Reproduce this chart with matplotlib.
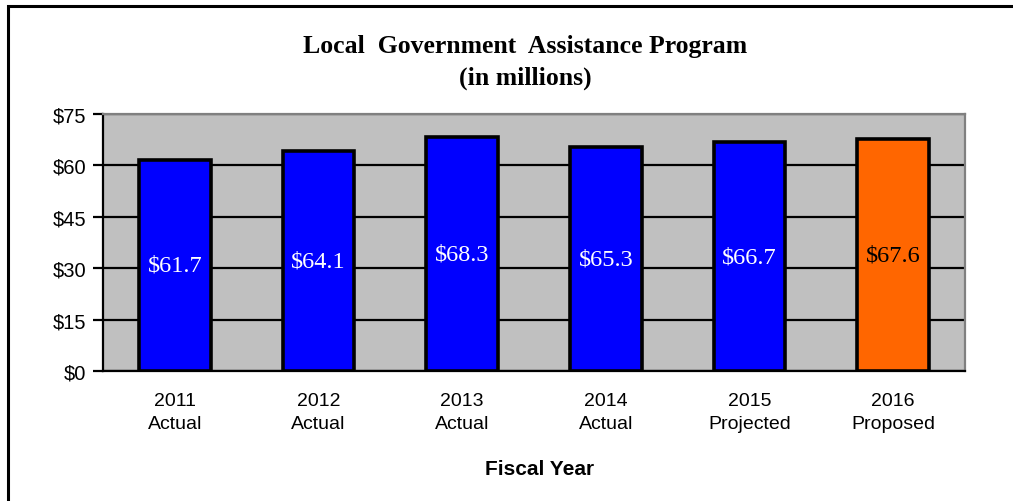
import matplotlib
matplotlib.use("Agg")
import matplotlib.pyplot as plt
from matplotlib.patches import Rectangle

years = ["2011", "2012", "2013", "2014", "2015", "2016"]
statuses = ["Actual", "Actual", "Actual", "Actual", "Projected", "Proposed"]
values = [61.7, 64.1, 68.3, 65.3, 66.7, 67.6]
bar_colors = ["#0000FF", "#0000FF", "#0000FF", "#0000FF", "#0000FF", "#FF6600"]
label_colors = ["white", "white", "white", "white", "white", "black"]
y_ticks = [0, 15, 30, 45, 60, 75]

W, H = 1013, 502
fig = plt.figure(figsize=(W / 100, H / 100), dpi=100)
fig.patch.set_facecolor("white")

# chart frame (left and top edges visible)
fig.patches.append(Rectangle((8 / W, -0.2), 1.2, 1 - 7 / H + 0.2,
                             transform=fig.transFigure, fill=False,
                             edgecolor="black", linewidth=2.2))

ax = fig.add_axes([103 / W, 1 - 372 / H, (965 - 103) / W, (372 - 115) / H])
ax.set_facecolor("#C0C0C0")

x = list(range(len(values)))
ax.bar(x, values, width=0.5, color=bar_colors, edgecolor="black",
       linewidth=2.6, zorder=3)

for xi, v, c in zip(x, values, label_colors):
    ax.text(xi, v / 2, f"${v:.1f}", ha="center", va="center", color=c,
            fontsize=17.5, family="Liberation Serif", zorder=4)

ax.set_xlim(-0.5, len(values) - 0.5)
ax.set_ylim(0, 75)
ax.set_yticks(y_ticks)
ax.set_yticklabels([f"${t}" for t in y_ticks], family="Liberation Sans",
                   fontsize=14.5)
ax.yaxis.grid(True, color="black", linewidth=1.6, zorder=1)
ax.set_axisbelow(True)

ax.set_xticks(x)
ax.set_xticklabels([f"{y}\n{s}" for y, s in zip(years, statuses)],
                   family="Liberation Sans", fontsize=14, linespacing=1.5)
ax.tick_params(axis="x", length=0, pad=15)
ax.tick_params(axis="y", length=7, width=1.6, direction="out", pad=5)

for side in ("top", "right"):
    ax.spines[side].set_color("#808080")
    ax.spines[side].set_linewidth(1.6)
for side in ("left", "bottom"):
    ax.spines[side].set_color("black")
    ax.spines[side].set_linewidth(1.6)

fig.text(525 / W, 1 - 46 / H, "Local  Government  Assistance Program",
         ha="center", va="center", fontsize=18.5, fontweight="bold",
         family="Liberation Serif")
fig.text(525 / W, 1 - 78 / H, "(in millions)", ha="center", va="center",
         fontsize=18.5, fontweight="bold", family="Liberation Serif")
fig.text(540 / W, 1 - 470 / H, "Fiscal Year", ha="center", va="center",
         fontsize=15, fontweight="bold", family="Liberation Sans")

fig.savefig("out.png", dpi=100)
